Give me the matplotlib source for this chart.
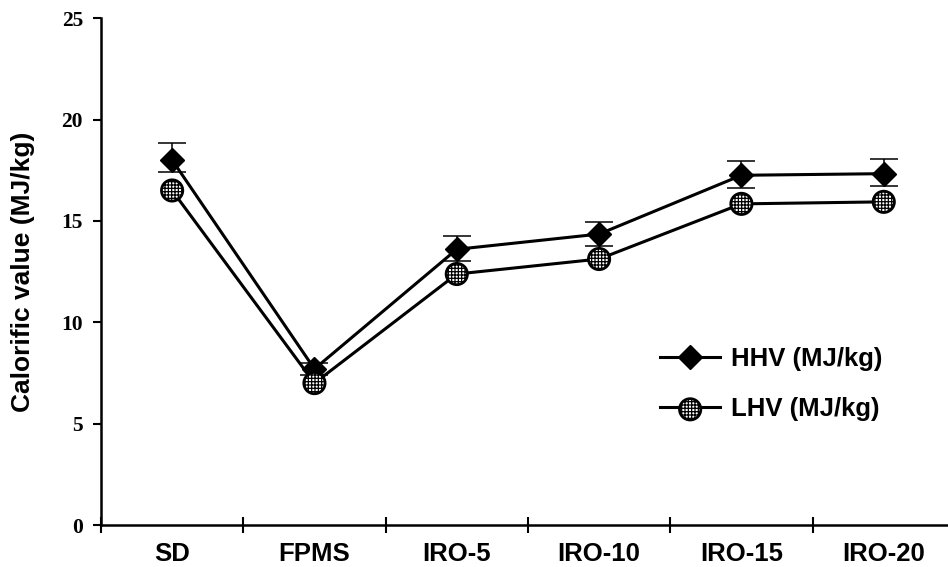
import numpy as np
import matplotlib.pyplot as plt
from matplotlib.ticker import FixedLocator

plt.rcParams['hatch.linewidth'] = 0.9

categories = ['SD', 'FPMS', 'IRO-5', 'IRO-10', 'IRO-15', 'IRO-20']
hhv = [18.0, 7.7, 13.6, 14.35, 17.25, 17.33]
hhv_err_low = [0.6, 0.3, 0.6, 0.6, 0.62, 0.62]
hhv_err_up = [0.85, 0.3, 0.65, 0.62, 0.7, 0.7]
lhv = [16.5, 7.0, 12.38, 13.12, 15.84, 15.94]
yticks = [0, 5, 10, 15, 20, 25]

fig = plt.figure(figsize=(9.48, 5.67), dpi=100)
ax = fig.add_axes([0.1065, 0.074, 0.9008, 0.894])

x = np.arange(len(categories))

ax.errorbar(x, hhv, yerr=[hhv_err_low, hhv_err_up], fmt='none', ecolor='black',
            elinewidth=1.1, capsize=10, capthick=1.1, zorder=1)
ax.plot(x, hhv, color='black', lw=2.2, marker='D', ms=12, mfc='black',
        mec='black', zorder=3)
hhv_line, = ax.plot([], [], color='black', lw=2.2, marker='D', ms=12,
                    mfc='black', mec='black')

ax.plot(x, lhv, color='black', lw=2.2, zorder=2)
lhv_pts = ax.scatter(x, lhv, s=235, marker='o', facecolor='white',
                     edgecolor='black', linewidth=2.0, hatch='+++++', zorder=4)
lhv_line, = ax.plot([], [], color='black', lw=2.2)

ax.set_xlim(-0.5, 5.5)
ax.set_ylim(0, 25)
ax.set_yticks(yticks, labels=[str(t) for t in yticks], fontfamily='Liberation Serif',
              fontweight='bold', fontsize=15.5)
ax.set_xticks(x)
ax.set_xticklabels(categories, fontfamily='Liberation Sans', fontweight='bold', fontsize=18.5)
ax.xaxis.set_minor_locator(FixedLocator(np.arange(-0.5, 5.6, 1.0)))
ax.tick_params(axis='x', which='major', length=0, pad=12)
ax.tick_params(axis='x', which='minor', length=11.5, width=1.5, direction='inout')
ax.tick_params(axis='y', length=6, width=1.5, direction='out', pad=7)

ax.set_ylabel('Calorific value (MJ/kg)', fontfamily='Liberation Sans',
              fontweight='bold', fontsize=19, labelpad=19)

for s in ['top', 'right']:
    ax.spines[s].set_visible(False)
for s in ['left', 'bottom']:
    ax.spines[s].set_linewidth(1.8)

ax.legend([hhv_line, (lhv_line, lhv_pts)], ['HHV (MJ/kg)', 'LHV (MJ/kg)'],
          loc='upper left', bbox_to_anchor=(0.6546, 0.352), frameon=False,
          borderpad=0, borderaxespad=0,
          prop={'family': 'Liberation Sans', 'weight': 'bold', 'size': 18.5},
          handlelength=2.35, labelspacing=1.03, handletextpad=0.4)

fig.savefig('out.png', dpi=100)
